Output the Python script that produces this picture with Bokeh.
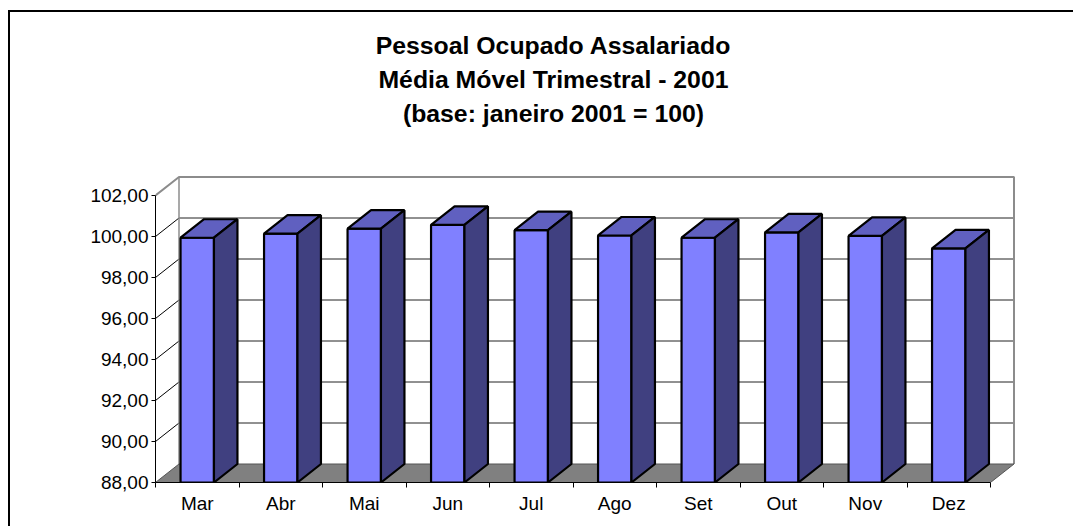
from bokeh.plotting import figure
from bokeh.models import FixedTicker, Range1d, Label, LinearAxis
from bokeh.embed import file_html
from bokeh.resources import INLINE

# ---- data ----
MONTHS = ["Mar", "Abr", "Mai", "Jun", "Jul", "Ago", "Set", "Out", "Nov", "Dez"]
VALUES = [99.94, 100.14, 100.38, 100.57, 100.31, 100.05, 99.94, 100.20, 100.03, 99.42]
Y_TICKS = [88, 90, 92, 94, 96, 98, 100, 102]
Y_LABELS = ["88,00", "90,00", "92,00", "94,00", "96,00", "98,00", "100,00", "102,00"]
TITLE_LINES = ["Pessoal Ocupado Assalariado",
               "Média Móvel Trimestral - 2001",
               "(base: janeiro 2001 = 100)"]

# ---- 3D geometry (in data units) ----
N = len(MONTHS)
Y0, Y1 = Y_TICKS[0], Y_TICKS[-1]
PX_X = 83.5      # pixels per category
PX_Y = 20.5      # pixels per value unit
DX = 23.5 / PX_X
DY = 18.5 / PX_Y
HALF = 0.2

FONT = "Liberation Sans"

W, H = 1065, 516
LEFT, BOTTOM = 145, 46
x_end = (W - LEFT) / PX_X
y_end = Y0 + (H - BOTTOM) / PX_Y

p = figure(width=W, height=H,
           x_range=Range1d(0, x_end), y_range=Range1d(Y0, y_end),
           output_backend="svg", toolbar_location=None,
           x_axis_type=None, y_axis_type=None,
           min_border_left=LEFT, min_border_right=0,
           min_border_top=0, min_border_bottom=BOTTOM)
p.title = None
p.outline_line_color = None
p.background_fill_color = "white"
p.border_fill_color = "white"
p.styles = {"margin-left": "8px", "margin-top": "10px",
            "border-left": "2px solid black", "border-top": "2px solid black"}

# back wall
p.quad(left=[DX], right=[N + DX], bottom=[Y0 + DY], top=[Y1 + DY],
       fill_color="white", line_color=None)
inner = Y_TICKS[1:-1]
# back wall gridlines
p.segment(x0=[DX] * len(inner), y0=[t + DY for t in inner],
          x1=[N + DX] * len(inner), y1=[t + DY for t in inner],
          line_color="#222222", line_width=1)
# side wall gridlines
p.segment(x0=[0] * len(inner), y0=inner,
          x1=[DX] * len(inner), y1=[t + DY for t in inner],
          line_color="#000000", line_width=1)
# wall borders
p.line(x=[0, DX, N + DX, N + DX], y=[Y1, Y1 + DY, Y1 + DY, Y0 + DY],
       line_color="#8c8c8c", line_width=2)
p.line(x=[DX, DX], y=[Y0 + DY, Y1 + DY], line_color="#8c8c8c", line_width=1.5)

# floor
p.patch(x=[0, N, N + DX, DX], y=[Y0, Y0, Y0 + DY, Y0 + DY],
        fill_color="#808080", line_color="#555555", line_width=1)

# bars
lefts = [i + 0.5 - HALF for i in range(N)]
rights = [i + 0.5 + HALF for i in range(N)]
top_xs = [[l, r, r + DX, l + DX] for l, r in zip(lefts, rights)]
top_ys = [[v, v, v + DY, v + DY] for v in VALUES]
side_xs = [[r, r + DX, r + DX, r] for r in rights]
side_ys = [[Y0, Y0 + DY, v + DY, v] for v in VALUES]
p.quad(left=lefts, right=rights, bottom=[Y0] * N, top=VALUES,
       fill_color="#8080FF", line_color="black", line_width=2.2)
p.patches(xs=top_xs, ys=top_ys, fill_color="#6060C0",
          line_color="black", line_width=2.2)
p.patches(xs=side_xs, ys=side_ys, fill_color="#404080",
          line_color="black", line_width=2.2)

# axes
xax = LinearAxis(
    ticker=FixedTicker(ticks=[i + 0.5 for i in range(N)],
                       minor_ticks=list(range(N + 1))),
    major_label_overrides={i + 0.5: m for i, m in enumerate(MONTHS)},
    bounds=(0, N),
    major_tick_in=0, major_tick_out=0,
    minor_tick_in=0, minor_tick_out=5,
    minor_tick_line_color="black",
    axis_line_color="black", axis_line_width=1,
    major_label_standoff=5,
    major_label_text_font=FONT, major_label_text_font_size="19px",
    major_label_text_color="black")
p.add_layout(xax, "below")

yax = LinearAxis(
    ticker=FixedTicker(ticks=Y_TICKS, minor_ticks=[]),
    major_label_overrides=dict(zip(Y_TICKS, Y_LABELS)),
    bounds=(Y0, Y1),
    major_tick_in=0, major_tick_out=4,
    minor_tick_in=0, minor_tick_out=0,
    major_tick_line_color="black",
    axis_line_color="black", axis_line_width=1,
    major_label_standoff=3,
    major_label_text_font=FONT, major_label_text_font_size="19px",
    major_label_text_color="black")
p.add_layout(yax, "left")

# title (three centred lines, inside the tall frame)
for txt, yy in zip(TITLE_LINES, [109.30, 107.64, 106.01]):
    p.add_layout(Label(x=4.766, y=yy, x_units="data", y_units="data",
                       text=txt, text_font=FONT, text_font_style="bold",
                       text_font_size="24.8px", text_align="center",
                       text_baseline="alphabetic", text_color="black"))

open("out.html", "w").write(file_html(p, INLINE))
